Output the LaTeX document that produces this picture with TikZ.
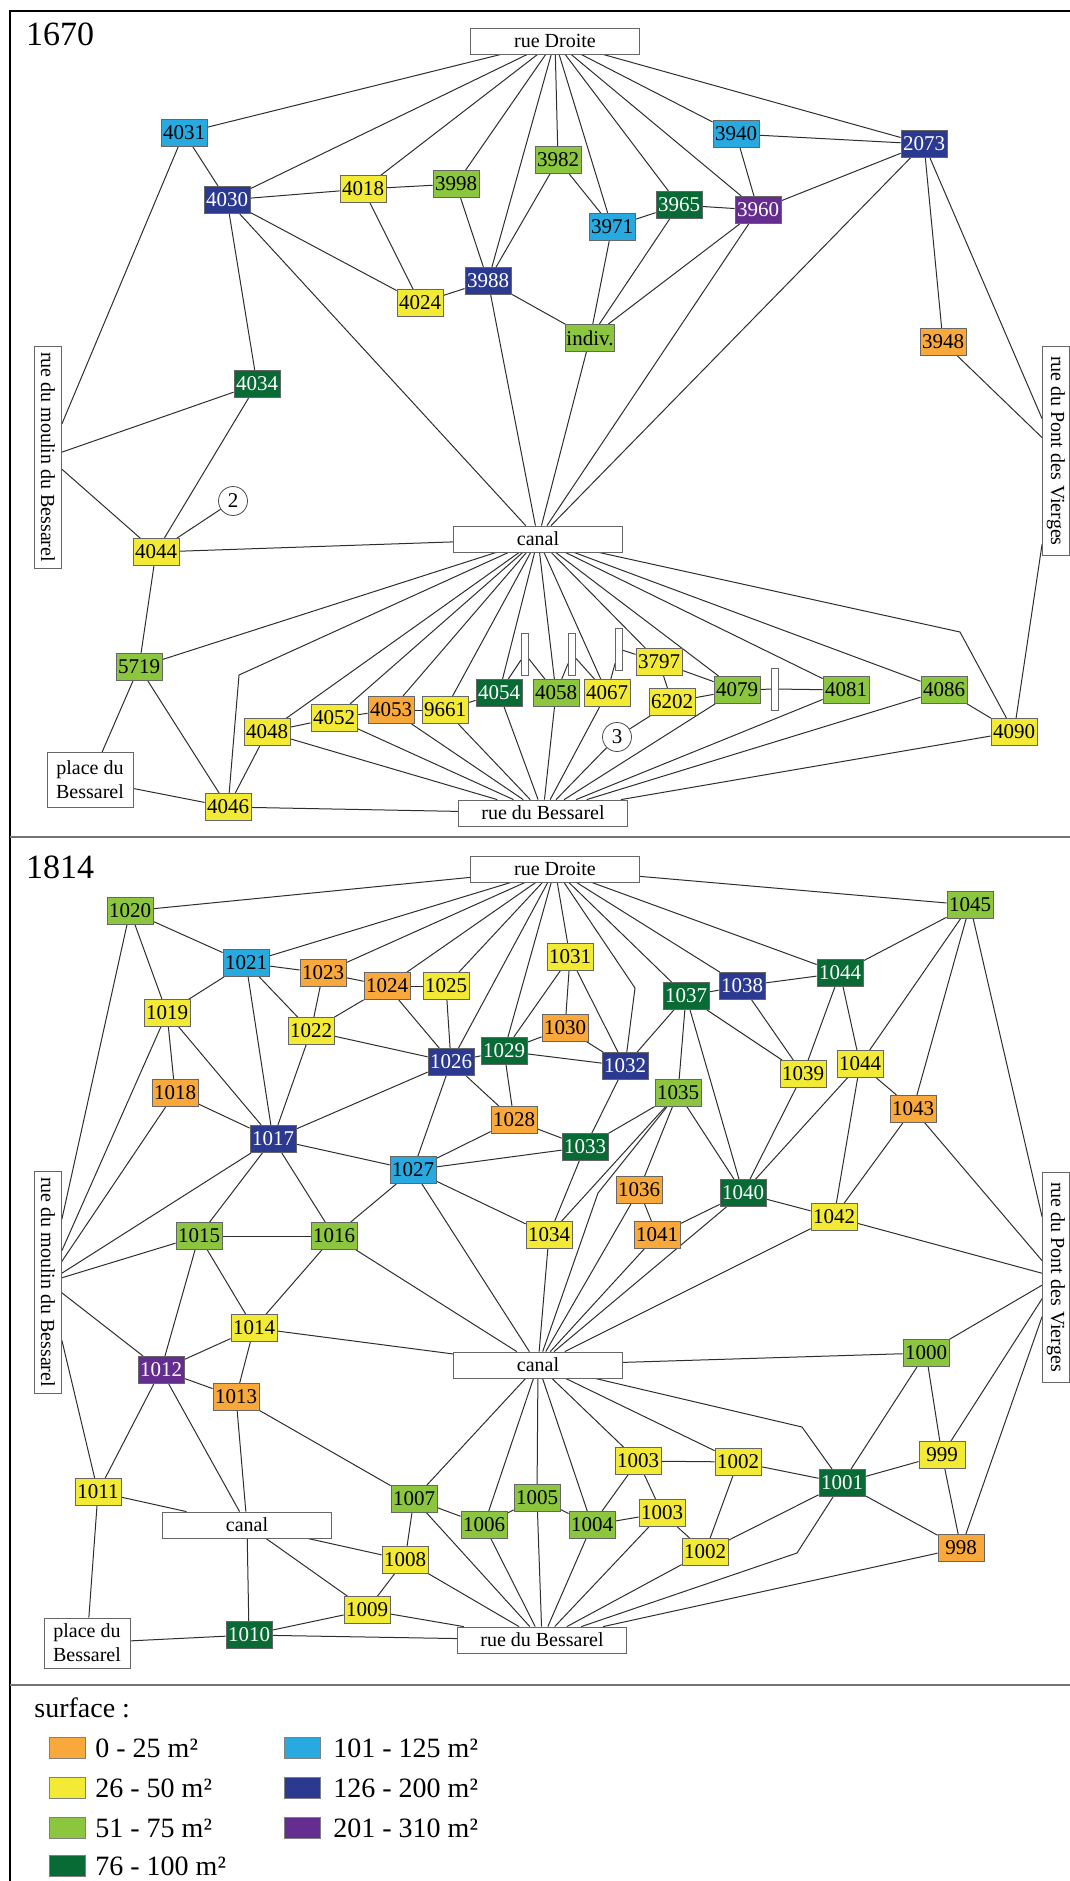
\documentclass[tikz,border=0pt]{standalone}
\usepackage{fontspec}
\setmainfont{Liberation Serif}
\usepackage{tikz}
\usetikzlibrary{backgrounds}
\definecolor{surfA}{HTML}{F9A93B}
\definecolor{surfB}{HTML}{F3EA36}
\definecolor{surfC}{HTML}{8CC63F}
\definecolor{surfD}{HTML}{086A35}
\definecolor{surfE}{HTML}{28AAE1}
\definecolor{surfF}{HTML}{2B3990}
\definecolor{surfG}{HTML}{662D91}

\begin{document}
\begin{tikzpicture}[x=0.5pt, y=-0.5pt,
  lot/.style={draw=black!60, line width=0.4pt, minimum width=23pt, minimum height=13.5pt,
              inner sep=0.4pt, font=\fontsize{10.5}{12}\selectfont},
  s25/.style={lot, fill=surfA},
  s50/.style={lot, fill=surfB},
  s75/.style={lot, fill=surfC},
  s100/.style={lot, fill=surfD, text=white},
  s125/.style={lot, fill=surfE},
  s200/.style={lot, fill=surfF, text=white},
  s310/.style={lot, fill=surfG, text=white},
  rue/.style={draw=black!60, fill=white, line width=0.4pt, minimum width=84.5pt,
              minimum height=13pt, inner sep=0.5pt, font=\fontsize{10}{12}\selectfont},
  ruev/.style={rue, rotate=-90, minimum height=13.5pt},
  plaza/.style={rue, align=center, minimum width=43pt, minimum height=26pt},
  sluice/.style={draw=black!60, fill=white, line width=0.4pt, minimum width=3.5pt,
                 minimum height=21pt, inner sep=0pt},
  ring/.style={circle, draw=black!70, fill=white, minimum size=14.5pt, inner sep=0pt,
               font=\fontsize{10.5}{12}\selectfont},
  swatch/.style={draw=black!50, line width=0.4pt, minimum width=18pt, minimum height=10.5pt, inner sep=0pt},
  legtext/.style={anchor=west, inner sep=0pt, font=\fontsize{14}{16}\selectfont},
  year/.style={font=\fontsize{17}{20}\selectfont, inner sep=0pt},
  link/.style={draw=black!82, line width=0.5pt}
]
\useasboundingbox (0,0) rectangle (1070,1881);
\draw[line width=0.6pt] (10,1881)--(10,11)--(1070,11);
\draw[line width=0.9pt, black!55] (10,837)--(1070,837);
\draw[line width=0.9pt, black!55] (10,1685)--(1070,1685);

\node[year] (yearA) at (60,34) {1670};
\node[rue] (droiteA) at (555,41) {rue Droite};
\node[s125] (p4031) at (184,133) {4031};
\node[s200] (p4030) at (227,200) {4030};
\node[s50] (p4018) at (363,189) {4018};
\node[s75] (p3998) at (456,184) {3998};
\node[s75] (p3982) at (558,160) {3982};
\node[s125] (p3971) at (612,227) {3971};
\node[s100] (p3965) at (679,205) {3965};
\node[s310] (p3960) at (758,210) {3960};
\node[s125] (p3940) at (736,134) {3940};
\node[s200] (p2073) at (924,144) {2073};
\node[s200] (p3988) at (488,281) {3988};
\node[s50] (p4024) at (420,303) {4024};
\node[s75] (pindiv) at (590,338) {indiv.};
\node[s25] (p3948) at (943,342) {3948};
\node[s100] (p4034) at (257,384) {4034};
\node[ruev, minimum width=111pt] (moulinA) at (48,457) {rue du moulin du Bessarel};
\node[ruev, minimum width=104.5pt] (pontA) at (1056,451) {rue du Pont des Vierges};
\node[ring] (ringTwo) at (233,501) {2};
\node[s50] (p4044) at (156,552) {4044};
\node[rue] (canalA) at (538,539) {canal};
\node[s75] (p5719) at (139,667) {5719};
\node[plaza, minimum height=27.5pt] (placeA) at (90,780) {place du\\Bessarel};
\node[s50] (p4048) at (267,732) {4048};
\node[s50] (p4052) at (334,718) {4052};
\node[s25] (p4053) at (391,710) {4053};
\node[s50] (p9661) at (445,710) {9661};
\node[s100] (p4054) at (499,693) {4054};
\node[s75] (p4058) at (556,693) {4058};
\node[s50] (p4067) at (607,693) {4067};
\node[sluice] (barA) at (525,654) {};
\node[sluice] (barB) at (572,654) {};
\node[sluice] (barC) at (619,649) {};
\node[s50] (p3797) at (659,662) {3797};
\node[s50] (p6202) at (672,702) {6202};
\node[ring] (ringThree) at (617,737) {3};
\node[s75] (p4079) at (737,690) {4079};
\node[sluice] (barD) at (775,689) {};
\node[s75] (p4081) at (846,690) {4081};
\node[s75] (p4086) at (944,690) {4086};
\node[s50] (p4090) at (1014,732) {4090};
\node[s50] (p4046) at (228,807) {4046};
\node[rue] (bessarelA) at (543,813) {rue du Bessarel};
\coordinate (kneeA) at (239,675);
\coordinate (kneeB) at (960,632);

\node[year] (yearB) at (60,867) {1814};
\node[rue] (droiteB) at (555,869) {rue Droite};
\node[s75] (p1020) at (130,911) {1020};
\node[s125] (p1021) at (246,963) {1021};
\node[s25] (p1023) at (323,973) {1023};
\node[s25] (p1024) at (387,986) {1024};
\node[s50] (p1025) at (446,986) {1025};
\node[s50] (p1019) at (167,1013) {1019};
\node[s50] (p1022) at (311,1031) {1022};
\node[s200] (p1026) at (451,1062) {1026};
\node[s100] (p1029) at (504,1051) {1029};
\node[s50] (p1031) at (570,957) {1031};
\node[s25] (p1030) at (565,1028) {1030};
\node[s200] (p1032) at (625,1066) {1032};
\node[s100] (p1037) at (686,996) {1037};
\node[s200] (p1038) at (742,986) {1038};
\node[s100] (p1044a) at (840,973) {1044};
\node[s75] (p1045) at (970,905) {1045};
\node[s25] (p1018) at (175,1093) {1018};
\node[s200] (p1017) at (273,1139) {1017};
\node[s25] (p1028) at (514,1120) {1028};
\node[s125] (p1027) at (413,1170) {1027};
\node[s100] (p1033) at (585,1147) {1033};
\node[s75] (p1035) at (678,1093) {1035};
\node[s50] (p1039) at (803,1074) {1039};
\node[s50] (p1044b) at (860,1064) {1044};
\node[s25] (p1043) at (913,1109) {1043};
\node[s25] (p1036) at (639,1190) {1036};
\node[s25] (p1041) at (657,1235) {1041};
\node[s100] (p1040) at (743,1193) {1040};
\node[s50] (p1042) at (834,1217) {1042};
\node[s50] (p1034) at (549,1235) {1034};
\node[ruev, minimum width=111pt] (moulinB) at (48,1282) {rue du moulin du Bessarel};
\node[ruev, minimum width=105pt] (pontB) at (1056,1277) {rue du Pont des Vierges};
\node[s75] (p1015) at (199,1236) {1015};
\node[s75] (p1016) at (334,1236) {1016};
\node[s50] (p1014) at (254,1328) {1014};
\node[rue] (canalB) at (538,1365) {canal};
\node[s310] (p1012) at (161,1370) {1012};
\node[s25] (p1013) at (236,1397) {1013};
\node[s75] (p1000) at (926,1353) {1000};
\node[s50] (p999) at (942,1455) {999};
\node[s50] (p1003a) at (638,1461) {1003};
\node[s50] (p1002a) at (738,1462) {1002};
\node[s100] (p1001) at (842,1483) {1001};
\node[s50] (p1011) at (98,1492) {1011};
\node[s75] (p1007) at (414,1499) {1007};
\node[s75] (p1005) at (537,1498) {1005};
\node[s50] (p1003b) at (662,1513) {1003};
\node[rue] (canalC) at (247,1525) {canal};
\node[s75] (p1006) at (484,1525) {1006};
\node[s75] (p1004) at (592,1525) {1004};
\node[s25] (p998) at (961,1548) {998};
\node[s50] (p1002b) at (705,1552) {1002};
\node[s50] (p1008) at (405,1560) {1008};
\node[s50] (p1009) at (367,1610) {1009};
\node[s100] (p1010) at (249,1635) {1010};
\node[plaza, minimum height=25pt] (placeB) at (87,1643) {place du\\Bessarel};
\node[rue] (bessarelB) at (542,1640) {rue du Bessarel};
\coordinate (kneeC) at (635,988);
\coordinate (kneeD) at (598,1193);
\coordinate (kneeE) at (802,1427);
\coordinate (kneeF) at (797,1553);

\node[legtext] (legend) at (34,1708) {surface :};
\node[swatch, fill=surfA] (keyA) at (67,1748) {};
\node[swatch, fill=surfB] (keyB) at (67,1788) {};
\node[swatch, fill=surfC] (keyC) at (67,1828) {};
\node[swatch, fill=surfD] (keyD) at (67,1866) {};
\node[swatch, fill=surfE] (keyE) at (302,1748) {};
\node[swatch, fill=surfF] (keyF) at (302,1788) {};
\node[swatch, fill=surfG] (keyG) at (302,1828) {};
\node[legtext] at (95,1748) {0 - 25 m²};
\node[legtext] at (95,1788) {26 - 50 m²};
\node[legtext] at (95,1828) {51 - 75 m²};
\node[legtext] at (95,1866) {76 - 100 m²};
\node[legtext] at (333,1748) {101 - 125 m²};
\node[legtext] at (333,1788) {126 - 200 m²};
\node[legtext] at (333,1828) {201 - 310 m²};

\begin{pgfonlayer}{background}
\draw[link] (droiteA)--(p4031); \draw[link] (droiteA)--(p4030); \draw[link] (droiteA)--(p4018);
\draw[link] (droiteA)--(p3998); \draw[link] (droiteA)--(p3988); \draw[link] (droiteA)--(p3982);
\draw[link] (droiteA)--(p3971); \draw[link] (droiteA)--(p3965); \draw[link] (droiteA)--(p3960);
\draw[link] (droiteA)--(p3940); \draw[link] (droiteA)--(p2073);
\draw[link] (p4031)--(p4030); \draw[link] (p4031)--(moulinA);
\draw[link] (p4030)--(p4018); \draw[link] (p4030)--(p4024); \draw[link] (p4030)--(p4034);
\draw[link] (p4030)--(canalA);
\draw[link] (p4018)--(p3998); \draw[link] (p4018)--(p4024);
\draw[link] (p3998)--(p3988); \draw[link] (p4024)--(p3988);
\draw[link] (p3988)--(p3982); \draw[link] (p3988)--(pindiv); \draw[link] (p3988)--(canalA);
\draw[link] (p3982)--(p3971);
\draw[link] (p3971)--(p3965); \draw[link] (p3971)--(pindiv);
\draw[link] (p3965)--(p3960); \draw[link] (p3965)--(pindiv);
\draw[link] (p3960)--(pindiv); \draw[link] (p3960)--(p3940); \draw[link] (p3960)--(p2073);
\draw[link] (p3960)--(canalA);
\draw[link] (p3940)--(p2073);
\draw[link] (p2073)--(p3948); \draw[link] (p2073)--(pontA); \draw[link] (p2073)--(canalA);
\draw[link] (p3948)--(pontA);
\draw[link] (pindiv)--(canalA);
\draw[link] (pontA)--(p4090);
\draw[link] (p4034)--(moulinA); \draw[link] (p4034)--(p4044);
\draw[link] (p4044)--(moulinA); \draw[link] (p4044)--(ringTwo); \draw[link] (p4044)--(canalA);
\draw[link] (p4044)--(p5719);
\draw[link] (p5719)--(canalA); \draw[link] (p5719)--(placeA); \draw[link] (p5719)--(p4046);
\draw[link] (placeA)--(p4046);
\draw[link] (p4046)--(p4048); \draw[link] (p4046)--(bessarelA); \draw[link] (p4046)--(kneeA)--(canalA);
\draw[link] (p4048)--(canalA); \draw[link] (p4048)--(p4052); \draw[link] (p4048)--(bessarelA);
\draw[link] (p4052)--(p4053); \draw[link] (p4052)--(canalA); \draw[link] (p4052)--(bessarelA);
\draw[link] (p4053)--(p9661); \draw[link] (p4053)--(canalA); \draw[link] (p4053)--(bessarelA);
\draw[link] (p9661)--(p4054); \draw[link] (p9661)--(canalA); \draw[link] (p9661)--(bessarelA);
\draw[link] (p4054)--(canalA); \draw[link] (p4054)--(barA); \draw[link] (p4054)--(bessarelA);
\draw[link] (barA)--(p4058);
\draw[link] (p4058)--(canalA); \draw[link] (p4058)--(barB); \draw[link] (p4058)--(bessarelA);
\draw[link] (barB)--(p4067);
\draw[link] (p4067)--(canalA); \draw[link] (p4067)--(barC); \draw[link] (p4067)--(bessarelA);
\draw[link] (barC)--(p3797);
\draw[link] (p3797)--(canalA); \draw[link] (p3797)--(p6202); \draw[link] (p3797)--(p4079);
\draw[link] (p6202)--(p4079); \draw[link] (p6202)--(ringThree);
\draw[link] (ringThree)--(bessarelA);
\draw[link] (p4079)--(canalA); \draw[link] (p4079)--(barD); \draw[link] (p4079)--(bessarelA);
\draw[link] (barD)--(p4081);
\draw[link] (p4081)--(canalA); \draw[link] (p4081)--(bessarelA);
\draw[link] (p4086)--(canalA); \draw[link] (p4086)--(bessarelA); \draw[link] (p4086)--(p4090);
\draw[link] (p4090)--(bessarelA); \draw[link] (p4090)--(kneeB)--(canalA);

\draw[link] (droiteB)--(p1020); \draw[link] (droiteB)--(p1021); \draw[link] (droiteB)--(p1023);
\draw[link] (droiteB)--(p1024); \draw[link] (droiteB)--(p1025); \draw[link] (droiteB)--(p1026);
\draw[link] (droiteB)--(p1029); \draw[link] (droiteB)--(p1031); \draw[link] (droiteB)--(kneeC)--(p1032);
\draw[link] (droiteB)--(p1037); \draw[link] (droiteB)--(p1038); \draw[link] (droiteB)--(p1044a);
\draw[link] (droiteB)--(p1045);
\draw[link] (p1020)--(p1021); \draw[link] (p1020)--(p1019); \draw[link] (p1020)--(moulinB);
\draw[link] (p1021)--(p1023); \draw[link] (p1021)--(p1019); \draw[link] (p1021)--(p1017);
\draw[link] (p1021)--(p1022);
\draw[link] (p1023)--(p1024); \draw[link] (p1023)--(p1022);
\draw[link] (p1024)--(p1025); \draw[link] (p1024)--(p1022); \draw[link] (p1024)--(p1026);
\draw[link] (p1025)--(p1026);
\draw[link] (p1022)--(p1026); \draw[link] (p1022)--(p1017);
\draw[link] (p1019)--(p1018); \draw[link] (p1019)--(p1017); \draw[link] (p1019)--(moulinB);
\draw[link] (p1018)--(p1017); \draw[link] (p1018)--(moulinB);
\draw[link] (p1017)--(p1026); \draw[link] (p1017)--(p1027); \draw[link] (p1017)--(p1015);
\draw[link] (p1017)--(p1016); \draw[link] (p1017)--(moulinB);
\draw[link] (p1026)--(p1027); \draw[link] (p1026)--(p1028); \draw[link] (p1026)--(p1029);
\draw[link] (p1029)--(p1028); \draw[link] (p1029)--(p1032); \draw[link] (p1029)--(p1030);
\draw[link] (p1029)--(p1031);
\draw[link] (p1028)--(p1027); \draw[link] (p1028)--(p1033);
\draw[link] (p1027)--(p1033); \draw[link] (p1027)--(p1016); \draw[link] (p1027)--(p1034);
\draw[link] (p1027)--(canalB);
\draw[link] (p1030)--(p1031); \draw[link] (p1030)--(p1032);
\draw[link] (p1031)--(p1032);
\draw[link] (p1032)--(p1037); \draw[link] (p1032)--(p1033);
\draw[link] (p1037)--(p1038); \draw[link] (p1037)--(p1035); \draw[link] (p1037)--(p1040);
\draw[link] (p1037)--(p1039);
\draw[link] (p1038)--(p1044a); \draw[link] (p1038)--(p1039);
\draw[link] (p1044a)--(p1045); \draw[link] (p1044a)--(p1039); \draw[link] (p1044a)--(p1044b);
\draw[link] (p1045)--(p1044b); \draw[link] (p1045)--(p1043); \draw[link] (p1045)--(pontB);
\draw[link] (p1044b)--(p1043); \draw[link] (p1044b)--(p1040); \draw[link] (p1044b)--(p1042);
\draw[link] (p1039)--(p1040);
\draw[link] (p1035)--(p1033); \draw[link] (p1035)--(p1040); \draw[link] (p1035)--(p1036);
\draw[link] (p1035)--(p1034); \draw[link] (p1035)--(kneeD)--(canalB);
\draw[link] (p1033)--(p1034);
\draw[link] (p1036)--(p1041); \draw[link] (p1036)--(canalB);
\draw[link] (p1041)--(p1040); \draw[link] (p1041)--(canalB);
\draw[link] (p1040)--(canalB); \draw[link] (p1040)--(p1042);
\draw[link] (p1042)--(p1043); \draw[link] (p1042)--(pontB); \draw[link] (p1042)--(canalB);
\draw[link] (p1043)--(pontB);
\draw[link] (p1034)--(canalB);
\draw[link] (p1016)--(canalB); \draw[link] (p1016)--(p1015); \draw[link] (p1016)--(p1014);
\draw[link] (p1015)--(moulinB); \draw[link] (p1015)--(p1014); \draw[link] (p1015)--(p1012);
\draw[link] (p1014)--(p1012); \draw[link] (p1014)--(p1013); \draw[link] (p1014)--(canalB);
\draw[link] (p1012)--(moulinB); \draw[link] (p1012)--(p1013); \draw[link] (p1012)--(p1011);
\draw[link] (p1012)--(canalC);
\draw[link] (p1013)--(canalC); \draw[link] (p1013)--(p1007);
\draw[link] (p1011)--(moulinB); \draw[link] (p1011)--(canalC); \draw[link] (p1011)--(placeB);
\draw[link] (canalC)--(p1010); \draw[link] (canalC)--(p1009); \draw[link] (canalC)--(p1008);
\draw[link] (placeB)--(p1010);
\draw[link] (p1010)--(p1009); \draw[link] (p1010)--(bessarelB);
\draw[link] (p1009)--(p1008); \draw[link] (p1009)--(bessarelB);
\draw[link] (p1008)--(p1007); \draw[link] (p1008)--(bessarelB);
\draw[link] (p1007)--(canalB); \draw[link] (p1007)--(p1006); \draw[link] (p1007)--(bessarelB);
\draw[link] (p1006)--(canalB); \draw[link] (p1006)--(bessarelB); \draw[link] (p1006)--(p1005);
\draw[link] (p1005)--(canalB); \draw[link] (p1005)--(bessarelB); \draw[link] (p1005)--(p1004);
\draw[link] (p1004)--(canalB); \draw[link] (p1004)--(bessarelB); \draw[link] (p1004)--(p1003a);
\draw[link] (p1004)--(p1003b);
\draw[link] (p1003a)--(canalB); \draw[link] (p1003a)--(p1002a); \draw[link] (p1003a)--(p1003b);
\draw[link] (p1003b)--(p1002b); \draw[link] (p1003b)--(bessarelB);
\draw[link] (p1002a)--(canalB); \draw[link] (p1002a)--(p1002b); \draw[link] (p1002a)--(p1001);
\draw[link] (p1002b)--(p1001); \draw[link] (p1002b)--(bessarelB);
\draw[link] (p1001)--(kneeE)--(canalB); \draw[link] (p1001)--(kneeF)--(bessarelB);
\draw[link] (p1001)--(p1000); \draw[link] (p1001)--(p999); \draw[link] (p1001)--(p998);
\draw[link] (p1000)--(canalB); \draw[link] (p1000)--(p999); \draw[link] (p1000)--(pontB);
\draw[link] (p999)--(p998); \draw[link] (p999)--(pontB);
\draw[link] (p998)--(pontB); \draw[link] (p998)--(bessarelB);
\end{pgfonlayer}
\end{tikzpicture}
\end{document}
